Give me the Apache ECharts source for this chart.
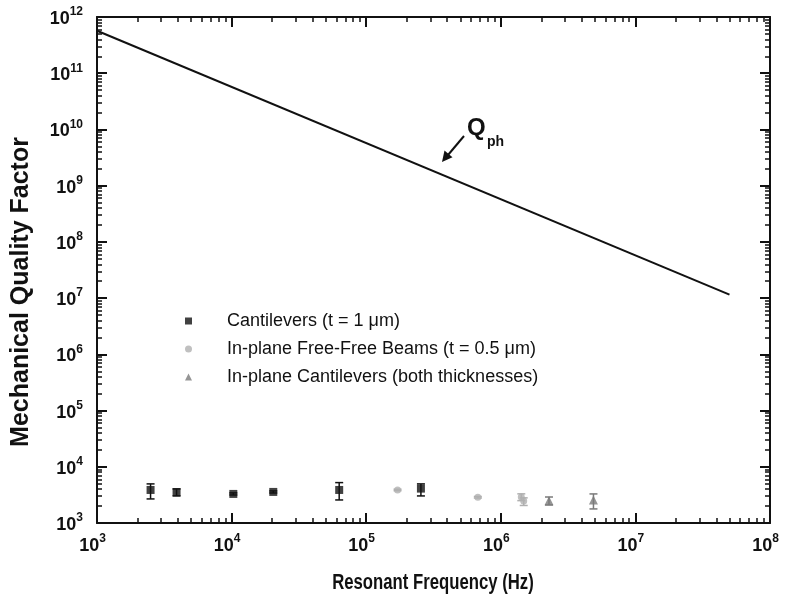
<!DOCTYPE html>
<html>
<head>
<meta charset="utf-8">
<script src="https://cdn.jsdelivr.net/npm/echarts@6/dist/echarts.min.js"></script>
<style>html,body{margin:0;padding:0;background:#fff}#c{width:785px;height:602px}</style>
</head>
<body>
<div id="c"></div>
<script>
// ---- data ----
var qphFreq = [1e3, 5e7];
var qphValue = [5.7e11, 1.15e7];

var cantFreq = [2500, 3900, 10300, 20400, 63000, 255000];
var cantQ    = [3870, 3530, 3290, 3570, 3870, 4090];
var cantLow  = [2680, 3030, 3150, 3420, 2570, 3030];
var cantHigh = [4960, 4040, 3430, 3720, 5230, 4960];

var ffFreq = [171000, 675000, 1420000, 1480000];
var ffQ    = [3870, 2870, 2900, 2450];
var ffLow  = [3750, 2780, 2500, 2050];
var ffHigh = [3990, 2960, 3300, 2800];

var ipFreq = [2280000, 4880000];
var ipQ    = [2500, 2570];
var ipLow  = [2090, 1780];
var ipHigh = [2900, 3290];

var legendNames = ['Cantilevers (t = 1 \u03bcm)', 'In-plane Free-Free Beams (t = 0.5 \u03bcm)', 'In-plane Cantilevers (both thicknesses)'];
var xTitle = 'Resonant Frequency (Hz)';
var yTitle = 'Mechanical Quality Factor';

// ---- helpers ----
function pairs(a, b) { return a.map(function (v, i) { return [v, b[i]]; }); }
function triples(f, lo, hi) { return f.map(function (v, i) { return [v, lo[i], hi[i]]; }); }

function errorSeries(f, lo, hi, color) {
  return {
    type: 'custom',
    silent: true,
    data: triples(f, lo, hi),
    z: 3,
    renderItem: function (params, api) {
      var x = api.value(0);
      var a = api.coord([x, api.value(1)]);
      var b = api.coord([x, api.value(2)]);
      var hw = 4;
      var st = { stroke: color, lineWidth: 1.5 };
      return {
        type: 'group',
        children: [
          { type: 'line', shape: { x1: a[0], y1: a[1], x2: b[0], y2: b[1] }, style: st },
          { type: 'line', shape: { x1: a[0] - hw, y1: a[1], x2: a[0] + hw, y2: a[1] }, style: st },
          { type: 'line', shape: { x1: b[0] - hw, y1: b[1], x2: b[0] + hw, y2: b[1] }, style: st }
        ]
      };
    }
  };
}

function supLabel(v) {
  var e = Math.round(Math.log(v) / Math.LN10);
  return '{b|10}{s|' + e + '}';
}
var rich = {
  b: { fontFamily: 'Liberation Sans, Arial', fontWeight: 'bold', fontSize: 18, color: '#111', lineHeight: 22, verticalAlign: 'bottom' },
  s: { fontFamily: 'Liberation Sans, Arial', fontWeight: 'bold', fontSize: 12, color: '#111', lineHeight: 14, verticalAlign: 'top' }
};
var axLine = { lineStyle: { color: '#111', width: 2 } };
var tickMaj = { inside: true, length: 10, lineStyle: { color: '#111', width: 2 } };
var tickMin = { show: true, splitNumber: 9, length: 5, lineStyle: { color: '#111', width: 1.5 } };

function xAx(pos, showLabel) {
  return {
    type: 'log', logBase: 10, min: 1e3, max: 1e8, splitNumber: 5, position: pos,
    axisLine: axLine, axisTick: tickMaj, minorTick: tickMin, splitLine: { show: false },
    axisLabel: { show: showLabel, margin: 10, formatter: supLabel, rich: rich, padding: [0, 9, 0, 0] }
  };
}
function yAx(pos, showLabel) {
  return {
    type: 'log', logBase: 10, min: 1e3, max: 1e12, splitNumber: 9, position: pos,
    axisLine: axLine, axisTick: tickMaj, minorTick: tickMin, splitLine: { show: false },
    axisLabel: { show: showLabel, margin: 14, formatter: supLabel, rich: rich }
  };
}

var chart = echarts.init(document.getElementById('c'), null, { renderer: 'canvas' });
chart.setOption({
  animation: false,
  backgroundColor: '#fff',
  grid: { left: 97, right: 15, top: 17, bottom: 79, containLabel: false },
  xAxis: [xAx('bottom', true), xAx('top', false)],
  yAxis: [yAx('left', true), yAx('right', false)],
  legend: {
    orient: 'vertical', left: 180, top: 307, itemWidth: 7, itemHeight: 7, itemGap: 10,
    data: legendNames,
    textStyle: { fontFamily: 'Liberation Sans, Arial', fontSize: 18, color: '#111', padding: [0, 0, 0, 30] }
  },
  series: [
    { type: 'line', name: 'Qph', data: pairs(qphFreq, qphValue), showSymbol: false, symbol: 'none',
      lineStyle: { color: '#111', width: 2 }, z: 2 },
    errorSeries(cantFreq, cantLow, cantHigh, '#111'),
    errorSeries(ffFreq, ffLow, ffHigh, '#b0b0b0'),
    errorSeries(ipFreq, ipLow, ipHigh, '#7a7a7a'),
    { type: 'scatter', name: legendNames[0], data: pairs(cantFreq, cantQ), symbol: 'rect', symbolSize: 8,
      itemStyle: { color: '#111' }, z: 4 },
    { type: 'scatter', name: legendNames[1], data: pairs(ffFreq, ffQ), symbol: 'circle', symbolSize: 7,
      itemStyle: { color: '#b0b0b0' }, z: 4 },
    { type: 'scatter', name: legendNames[2], data: pairs(ipFreq, ipQ), symbol: 'triangle', symbolSize: 9,
      itemStyle: { color: '#7a7a7a' }, z: 4 }
  ],
  graphic: [
    { type: 'text', x: 433, y: 572, scaleX: 0.76, originX: 0,
      style: { text: xTitle, fontFamily: 'Liberation Sans, Arial', fontWeight: 'bold', fontSize: 22, fill: '#111', align: 'center', verticalAlign: 'top' } },
    { type: 'text', x: 9, y: 292, rotation: Math.PI / 2,
      style: { text: yTitle, fontFamily: 'Liberation Sans, Arial', fontWeight: 'bold', fontSize: 25, fill: '#111', align: 'center', verticalAlign: 'top' } },
    { type: 'text', x: 467, y: 116,
      style: { text: 'Q', fontFamily: 'Liberation Sans, Arial', fontWeight: 'bold', fontSize: 24, fill: '#111' } },
    { type: 'text', x: 487, y: 135,
      style: { text: 'ph', fontFamily: 'Liberation Sans, Arial', fontWeight: 'bold', fontSize: 14, fill: '#111' } },
    { type: 'line', shape: { x1: 464, y1: 136, x2: 448, y2: 155 }, style: { stroke: '#111', lineWidth: 2 } },
    { type: 'polygon', shape: { points: [[442, 162], [444.5, 150.5], [452.5, 157.2]] }, style: { fill: '#111' } }
  ]
});
</script>
</body>
</html>
